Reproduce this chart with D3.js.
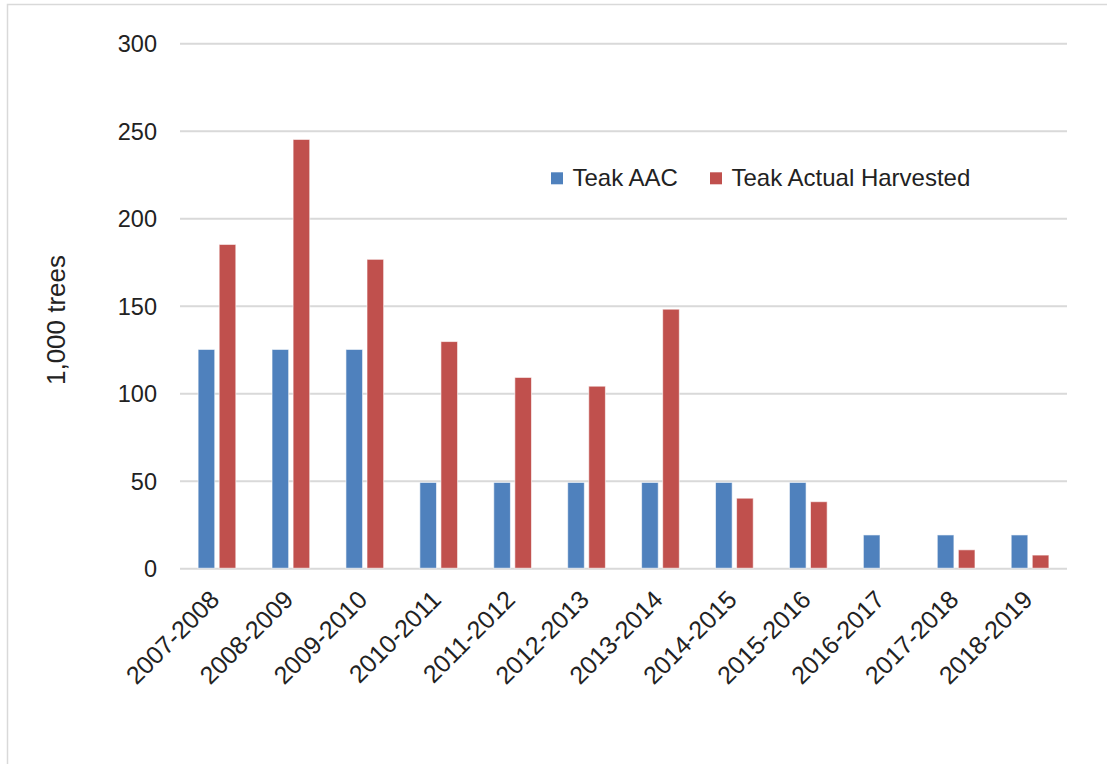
<!DOCTYPE html>
<html>
<head>
<meta charset="utf-8">
<script src="https://cdn.jsdelivr.net/npm/d3@7"></script>
<style>
  html, body { margin: 0; padding: 0; background: #fff; }
  svg { display: block; font-family: "Liberation Sans", Arial, sans-serif; }
</style>
</head>
<body>
<svg id="chart" width="1107" height="764"></svg>
<script>
const categories = ["2007-2008","2008-2009","2009-2010","2010-2011","2011-2012","2012-2013","2013-2014","2014-2015","2015-2016","2016-2017","2017-2018","2018-2019"];
const seriesNames = ["Teak AAC", "Teak Actual Harvested"];
const teakAAC = [125, 125, 125, 49, 49, 49, 49, 49, 49, 19, 19, 19];
const teakHarvested = [185, 245, 176.5, 129.5, 109, 104, 148, 40, 38, 0, 10.5, 7.5];
const yTicks = [0, 50, 100, 150, 200, 250, 300];
const colors = ["#4F81BD", "#C0504D"];

(function () {
const svg = d3.select("#chart");
const W = 1107, H = 764;
const FONT = "Liberation Sans, Arial, sans-serif";
const INK = "#222";

// frame
svg.append("path")
  .attr("d", `M7.5,${H} L7.5,4.5 L${W},4.5`)
  .attr("fill", "none").attr("stroke", "#d9d9d9").attr("stroke-width", 1.5);

const mLeft = 180, mRight = 1067, mTop = 43.2, mBottom = 568.2;
const x = d3.scaleBand().domain(categories).range([mLeft, mRight]);
const y = d3.scaleLinear().domain([0, 300]).range([mBottom, mTop]);

// gridlines + y tick labels
const yAxis = d3.axisLeft(y).tickValues(yTicks).tickSize(-(mRight - mLeft)).tickPadding(23);
const gy = svg.append("g").attr("transform", `translate(${mLeft},0)`).call(yAxis);
gy.select(".domain").remove();
gy.selectAll(".tick line").attr("stroke", "#d9d9d9").attr("stroke-width", 2);
gy.selectAll(".tick text").attr("font-size", 23.5).attr("fill", INK).attr("dy", "0.36em")
  .attr("font-family", FONT);

// bars
const bw = x.bandwidth() * 0.225;
const gap = x.bandwidth() * 0.06;
const data = [teakAAC, teakHarvested];
data.forEach((vals, si) => {
  svg.append("g").selectAll("rect")
    .data(categories.map((c, i) => ({c, v: vals[i]})).filter(d => d.v > 0))
    .join("rect")
    .attr("x", d => x(d.c) + x.bandwidth() / 2 + (si === 0 ? -(gap / 2 + bw) : gap / 2))
    .attr("y", d => y(d.v))
    .attr("width", bw)
    .attr("height", d => y(0) - y(d.v))
    .attr("fill", colors[si])
    .attr("stroke", "rgba(255,255,255,0.6)")
    .attr("stroke-width", 1);
});

// x axis labels
const xAxis = d3.axisBottom(x).tickSize(0).tickPadding(0);
const gx = svg.append("g").attr("transform", `translate(0,${mBottom})`).call(xAxis);
gx.select(".domain").remove();
gx.selectAll(".tick text")
  .attr("font-size", 25).attr("fill", INK)
  .attr("font-family", FONT)
  .attr("text-anchor", "end")
  .attr("dy", "0")
  .attr("transform", "translate(4,33) rotate(-45)");

// y axis title
svg.append("text")
  .attr("transform", "translate(65,320) rotate(-90)")
  .attr("text-anchor", "middle")
  .attr("font-size", 26).attr("fill", INK)
  .text("1,000 trees");

// legend
const legendPos = [551, 710];
seriesNames.forEach((n, i) => {
  svg.append("rect").attr("x", legendPos[i]).attr("y", 172.3).attr("width", 12).attr("height", 12).attr("fill", colors[i]);
  svg.append("text").attr("x", legendPos[i] + 21.5).attr("y", 186)
    .attr("font-size", 24).attr("fill", INK).text(n);
});
})();
</script>
</body>
</html>
